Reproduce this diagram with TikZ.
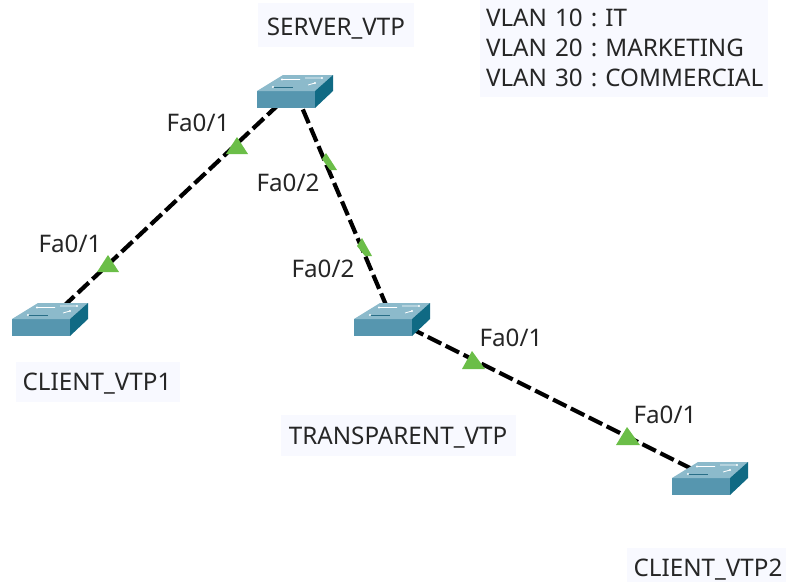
\documentclass[tikz,border=0pt]{standalone}
\usepackage{fontspec}
\setmainfont{Noto Sans}
\definecolor{labelbg}{RGB}{248,249,255}
\definecolor{swfront}{RGB}{86,150,175}
\definecolor{swtop}{RGB}{140,186,203}
\definecolor{swside}{RGB}{16,106,132}
\definecolor{swmark}{RGB}{40,110,135}
\definecolor{portgreen}{RGB}{107,190,72}
\tikzset{
  swnode/.style={inner sep=0pt,minimum width=76pt,minimum height=33pt},
  lbl/.style={fill=labelbg,text=black!85,font=\fontsize{24.2}{30}\selectfont\frenchspacing,inner sep=0pt},
  onel/.style={lbl,text height=0pt,text depth=0pt},
  port/.style={text=black!85,font=\fontsize{24.2}{30}\selectfont,inner sep=1pt},
  link/.style={line width=4.2pt,black,dash pattern=on 15pt off 5pt},
  tri/.style={fill=portgreen,draw=none},
}
\newcommand{\swdraw}[1]{%
  \begin{scope}[shift={(#1.center)}]
    \fill[swfront] (-38,0) -- (20,0) -- (20,17) -- (-38,17) -- cycle;
    \fill[swtop] (-38,0) -- (-12,-16) -- (38,-16) -- (20,0) -- cycle;
    \fill[swside] (20,0) -- (38,-16) -- (38,0) -- (20,17) -- cycle;
    \draw[white,line width=.8pt] (-13,-11.5) -- (5,-11.5) (10,-13) -- (27,-13) (13,-6) -- (20,-8);
    \draw[swmark,line width=.8pt] (-22,-4) -- (-2,-4);
    \fill[white] (-13,-11.5) circle (1.2) (27,-13) circle (1.2) (-22,-4) circle (1.2) (20,-8) circle (1.2);
  \end{scope}}
\begin{document}
\begin{tikzpicture}[x=1pt,y=-1pt]
\useasboundingbox (0,0) rectangle (786,582);
\node[swnode] (server) at (295,91) {};
\node[swnode] (client1) at (50,319) {};
\node[swnode] (transp) at (392,319) {};
\node[swnode] (client2) at (710,478) {};
\draw[link] ([xshift=-2pt]server.center) -- (client1.center);
\draw[link] (server.center) -- (transp.center);
\draw[link] (transp.center) -- (client2.center);
\fill[tri] (237,137) -- (248,154) -- (226,154) -- cycle;
\fill[tri] (108,255) -- (119,272) -- (97,272) -- cycle;
\fill[tri] (326,153) -- (322,159) -- (330,170) -- (337,170) -- cycle;
\fill[tri] (362,238) -- (357,246) -- (365,256) -- (372,256) -- cycle;
\fill[tri] (472,351) -- (485,369) -- (462,369) -- cycle;
\fill[tri] (627,427) -- (640,445) -- (616,445) -- cycle;
\swdraw{server}\swdraw{client1}\swdraw{transp}\swdraw{client2}
\node[onel,minimum width=156pt,minimum height=44pt] (l1) at (336,25) {\raisebox{-10.7pt}{SERVER\_VTP}};
\node[onel,minimum width=164pt,minimum height=40pt] (l2) at (98,382) {\raisebox{-8.7pt}{\hspace*{-2pt}CLIENT\_VTP1}};
\node[onel,minimum width=235pt,minimum height=41pt] (l3) at (398,435) {\raisebox{-9.7pt}{TRANSPARENT\_VTP}};
\node[onel,minimum width=159pt,minimum height=34pt] (l4) at (706.5,565) {\raisebox{-11.8pt}{\hspace*{3pt}CLIENT\_VTP2}};
\node[lbl,align=left,minimum width=288pt,minimum height=98pt,text width=288pt] (l5) at (624,48) {\hspace*{6pt}VLAN 10 : IT\\\hspace*{6pt}VLAN 20 : MARKETING\\\hspace*{6pt}VLAN 30 : COMMERCIAL};
\node[port] (p1) at (198,123) {Fa0/1};
\node[port] (p2) at (70,244) {Fa0/1};
\node[port] (p3) at (288,183) {Fa0/2};
\node[port] (p4) at (323,269) {Fa0/2};
\node[port] (p5) at (511,338) {Fa0/1};
\node[port] (p6) at (665,415) {Fa0/1};
\end{tikzpicture}
\end{document}
